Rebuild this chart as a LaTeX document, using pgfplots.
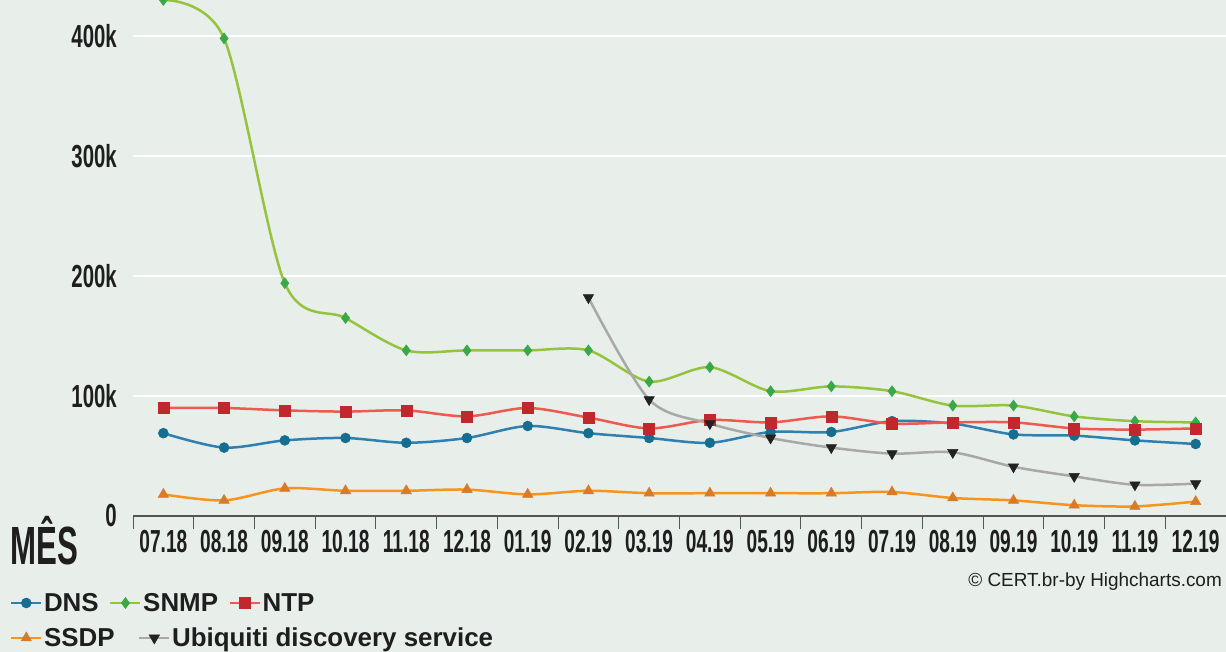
\documentclass[border=0pt]{standalone}
\usepackage{pgfplots}
\pgfplotsset{compat=1.18}
\usepackage{fontspec}
\setmainfont{Liberation Sans}
\usepackage{graphicx}

\definecolor{bg}{HTML}{E8EEEA}
\definecolor{axisgray}{HTML}{555555}
\definecolor{txt}{HTML}{1E1E1E}
\definecolor{dnsline}{HTML}{2F80B0}
\definecolor{dnsmark}{HTML}{156D8F}
\definecolor{snmpline}{HTML}{94C43E}
\definecolor{snmpmark}{HTML}{3AA845}
\definecolor{ntpline}{HTML}{EF5A50}
\definecolor{ntpmark}{HTML}{C1272D}
\definecolor{ssdpline}{HTML}{F7941D}
\definecolor{ssdpmark}{HTML}{D97A27}
\definecolor{ubline}{HTML}{A8A8A8}
\definecolor{ubmark}{HTML}{222222}

\newcommand{\tk}[1]{\scalebox{0.6}[1]{\fontsize{32}{32}\selectfont\bfseries #1}}
\newcommand{\tky}[1]{\scalebox{0.64}[1]{\fontsize{32}{32}\selectfont\bfseries #1}}

\pgfplotsset{
  dnsstyle/.style={color=dnsline, line width=2.5bp, mark=*, mark size=5bp, mark options={fill=dnsmark, draw=dnsmark, line width=0.5bp}},
  snmpstyle/.style={color=snmpline, line width=2.5bp, mark=diamond*, mark size=5.5bp, mark options={fill=snmpmark, draw=snmpmark, line width=0.5bp}},
  ntpstyle/.style={color=ntpline, line width=2.5bp, mark=square*, mark size=5.5bp, mark options={fill=ntpmark, draw=ntpmark, line width=0.5bp}},
  ssdpstyle/.style={color=ssdpline, line width=2.5bp, mark=triangle*, mark size=6bp, mark options={fill=ssdpmark, draw=ssdpmark, line width=0.5bp}},
  ubstyle/.style={color=ubline, line width=2.5bp, mark=triangle*, mark size=6bp, mark options={fill=ubmark, draw=ubmark, rotate=180, line width=0.5bp}},
  mylegend/.style={
    legend image code/.code={\draw[mark repeat=2,mark phase=2,##1] plot coordinates {(0bp,0bp)(15bp,0bp)(30bp,0bp)};},
    legend columns=-1,
  },
}

\begin{document}
\begin{tikzpicture}[x=1bp,y=1bp]
\fill[bg] (0,0) rectangle (1226,652);
\begin{axis}[
  at={(133bp,136bp)}, anchor=south west,
  scale only axis, width=1093bp, height=516bp,
  xmin=-0.5, xmax=17.5, ymin=0, ymax=430,
  axis x line*=bottom, axis y line*=left,
  x axis line style={draw=axisgray, line width=1.2bp, -},
  y axis line style={draw=none},
  xtick={0,...,17},
  xticklabels={\tk{07.18},\tk{08.18},\tk{09.18},\tk{10.18},\tk{11.18},\tk{12.18},\tk{01.19},\tk{02.19},\tk{03.19},\tk{04.19},\tk{05.19},\tk{06.19},\tk{07.19},\tk{08.19},\tk{09.19},\tk{10.19},\tk{11.19},\tk{12.19}},
  minor xtick={-0.5,0.5,...,17.5},
  major tick length=0pt, minor tick length=13bp, tick align=outside,
  minor tick style={draw=axisgray, line width=1bp},
  ytick={0,100,200,300,400},
  yticklabels={\tky{0},\tky{100k},\tky{200k},\tky{300k},\tky{400k}},
  ymajorgrids, grid style={white, line width=1.5bp},
  xticklabel style={inner sep=0pt, anchor=north, yshift=-14bp, text=txt},
  yticklabel style={inner sep=0pt, anchor=east, xshift=-16bp, text=txt},
  clip=false,
  mylegend,
  legend style={at={(-0.1125,-0.1686)}, anchor=west, draw=none, fill=none, inner sep=0pt, outer sep=0pt,
    font=\fontsize{26}{26}\selectfont\bfseries, text=txt, nodes={inner sep=1.5bp},
    /tikz/every even column/.append style={column sep=9bp}},
  smooth, tension=0.5,
]
\addplot[dnsstyle] coordinates {(0,69) (1,57) (2,63) (3,65) (4,61) (5,65) (6,75) (7,69) (8,65) (9,61) (10,70) (11,70) (12,79) (13,77) (14,68) (15,67) (16,63) (17,60)};
\addplot[snmpstyle] coordinates {(0,430) (1,398) (2,194) (3,165) (4,138) (5,138) (6,138) (7,138) (8,112) (9,124) (10,104) (11,108) (12,104) (13,92) (14,92) (15,83) (16,79) (17,78)};
\addplot[ntpstyle] coordinates {(0,90) (1,90) (2,88) (3,87) (4,88) (5,83) (6,90) (7,82) (8,73) (9,80) (10,78) (11,83) (12,77) (13,78) (14,78) (15,73) (16,72) (17,73)};
\addplot[ssdpstyle] coordinates {(0,18) (1,13) (2,23) (3,21) (4,21) (5,22) (6,18) (7,21) (8,19) (9,19) (10,19) (11,19) (12,20) (13,15) (14,13) (15,9) (16,8) (17,12)};
\addplot[ubstyle] coordinates {(7,182) (8,97) (9,77) (10,65) (11,57) (12,52) (13,53) (14,41) (15,33) (16,26) (17,27)};
\legend{DNS,SNMP,NTP}
\end{axis}
\begin{axis}[
  at={(133bp,136bp)}, anchor=south west,
  scale only axis, width=1093bp, height=516bp,
  xmin=0, xmax=1, ymin=0, ymax=1, hide axis,
  mylegend,
  legend style={at={(-0.1125,-0.2364)}, anchor=west, draw=none, fill=none, inner sep=0pt, outer sep=0pt,
    font=\fontsize{26}{26}\selectfont\bfseries, text=txt, nodes={inner sep=1.5bp},
    /tikz/every even column/.append style={column sep=22bp}},
]
\addlegendimage{ssdpstyle}
\addlegendentry{SSDP}
\addlegendimage{ubstyle}
\addlegendentry{Ubiquiti discovery service}
\end{axis}
\node[anchor=base west, inner sep=0pt, text=txt] at (10,87) {\scalebox{0.58}[1]{\fontsize{54}{54}\selectfont\bfseries MÊS}};
\node[anchor=base east, inner sep=0pt, text=txt, font=\fontsize{19}{19}\selectfont] at (1222,65) {© CERT.br-by Highcharts.com};
\pgfresetboundingbox
\path[use as bounding box] (0,0) rectangle (1226,652);
\end{tikzpicture}
\end{document}
